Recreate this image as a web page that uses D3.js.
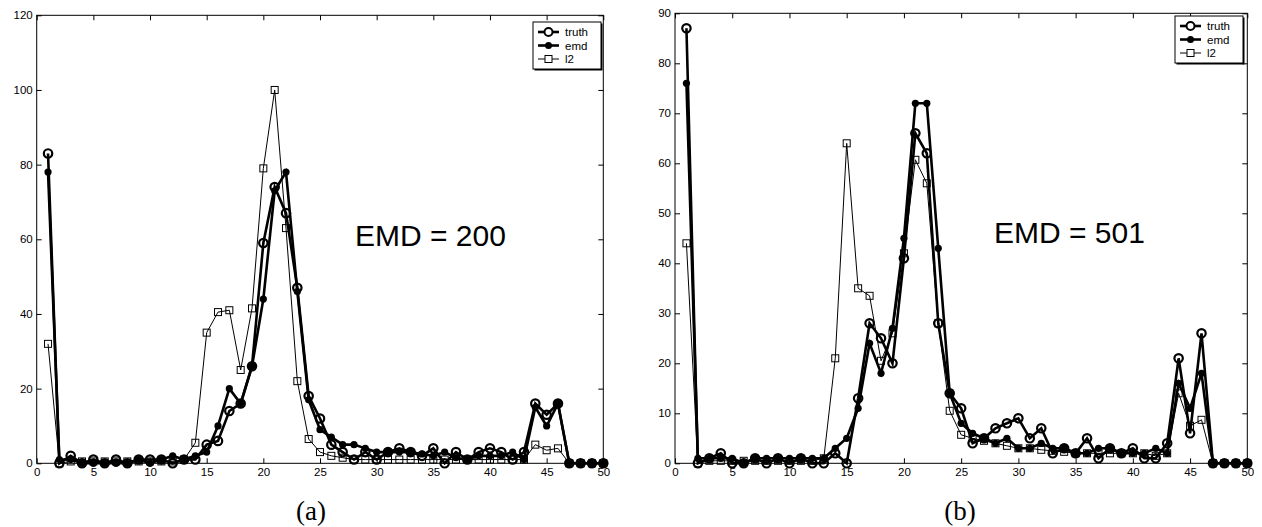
<!DOCTYPE html>
<html>
<head>
<meta charset="utf-8">
<script src="https://cdn.jsdelivr.net/npm/d3@7"></script>
<style>
  body { margin: 0; background: #fff; }
  svg text { font-family: "Liberation Sans", Arial, sans-serif; }
</style>
</head>
<body>
<div id="container"></div>
<script>
/**
 * DATA
 * */
const bins = d3.range(1, 51);

// panel (a)
const truthA = [83,0,2,0,1,0,1,0,1,1, 1,0,1,1,5,6,14,16,26,59, 74,67,47,18,12,5,3,1,3,1, 3,4,3,2,4,0,3,1,3,4, 3,1,3,16,13,16,0,0,0,0];
const emdA   = [78,1,1,0,0,0,0,0,1,0, 1,2,1,2,3,10,20,16,26,44, 73,78,46,17,9,7,5,5,4,3, 3,3,3,2.5,2,3,1.5,1,2,2, 2,3,1,15,10,16,0,0,0,0];
const l2A    = [32,0,0.5,0.5,0.5,0.5,0.5,0.5,0.5,0.5, 0.5,0.5,1,5.5,35,40.5,41,25,41.5,79, 100,63,22,6.5,3,2,1.5,1,1,1, 1,1,1,1,1,1,1,1,1,1, 1,1,1,5,3.5,4,0,0,0,0];

// panel (b)
const truthB = [87,0,1,2,0,0,1,0,1,0, 1,0,0,2,0,13,28,25,20,41, 66,62,28,14,11,4,5,7,8,9, 5,7,2,3,2,5,1,3,2,3, 1,1,4,21,6,26,0,0,0,0];
const emdB   = [76,1,1,1,1,0,1,1,1,1, 1,1,1,3,5,11,24,18,27,45, 72,72,43,14,8,6,5,4,5,3, 3,4,3,3,2,2,3,3,2,2, 2,3,2,16,11,18,0,0,0,0];
const l2B    = [44,0,0.5,0.5,0.5,0.5,0.5,0.5,0.5,0.5, 0.5,0.5,1,21,64,35,33.5,20.5,26,42, 60.7,56,28,10.5,5.7,5,4.5,4,3.5,3, 3,2.7,2.5,2.3,2,2,2,2,2,2, 2,1.5,2,14,7.5,8.7,0,0,0,0];

const xTicks  = [0,5,10,15,20,25,30,35,40,45,50];
const yTicksA = [0,20,40,60,80,100,120];
const yTicksB = [0,10,20,30,40,50,60,70,80,90];

const seriesNames = ["truth", "emd", "l2"];

/**
 * LAYOUT
 * */
const width = 1262, height = 527;

const svg = d3.select("#container")
  .append("svg")
  .attr("width", width)
  .attr("height", height);

function drawPanel(opt) {
  const x = d3.scaleLinear().domain([0, 50]).range([opt.left, opt.right]);
  const y = d3.scaleLinear().domain([0, opt.ymax]).range([opt.bottom, opt.top]);
  const g = svg.append("g");

  const line = d3.line().x((d, i) => x(bins[i])).y(d => y(d));

  // axes, matlab style ticks pointing in
  g.append("g")
    .attr("transform", `translate(0,${opt.bottom})`)
    .call(d3.axisBottom(x).tickValues(xTicks).tickSize(-5).tickPadding(5).tickFormat(d3.format("d")))
    .call(a => a.select(".domain").remove());
  g.append("g")
    .attr("transform", `translate(0,${opt.top})`)
    .call(d3.axisTop(x).tickValues(xTicks).tickSize(-5).tickFormat(""))
    .call(a => a.select(".domain").remove());
  g.append("g")
    .attr("transform", `translate(${opt.left},0)`)
    .call(d3.axisLeft(y).tickValues(opt.yTicks).tickSize(-5).tickPadding(4).tickFormat(d3.format("d")))
    .call(a => a.select(".domain").remove());
  g.append("g")
    .attr("transform", `translate(${opt.right},0)`)
    .call(d3.axisRight(y).tickValues(opt.yTicks).tickSize(-5).tickFormat(""))
    .call(a => a.select(".domain").remove());

  g.selectAll(".tick text")
    .attr("font-size", 11.5)
    .attr("font-family", "Liberation Sans, Arial, sans-serif")
    .attr("fill", "#000");
  g.selectAll(".tick line").attr("stroke", "#000");

  g.append("rect")
    .attr("x", opt.left)
    .attr("y", opt.top)
    .attr("width", opt.right - opt.left)
    .attr("height", opt.bottom - opt.top)
    .attr("fill", "none")
    .attr("stroke", "#000")
    .attr("stroke-width", 1);

  // truth: open circles, thick
  g.append("path")
    .datum(opt.truth)
    .attr("d", line)
    .attr("fill", "none")
    .attr("stroke", "#000")
    .attr("stroke-width", 2.6);
  // emd: dots, thick
  g.append("path")
    .datum(opt.emd)
    .attr("d", line)
    .attr("fill", "none")
    .attr("stroke", "#000")
    .attr("stroke-width", 2.6);
  // l2: squares, thin
  g.append("path")
    .datum(opt.l2)
    .attr("d", line)
    .attr("fill", "none")
    .attr("stroke", "#000")
    .attr("stroke-width", 1);

  g.selectAll(".truthPt")
    .data(opt.truth)
    .join("circle")
    .attr("class", "truthPt")
    .attr("cx", (d, i) => x(bins[i]))
    .attr("cy", d => y(d))
    .attr("r", 4.2)
    .attr("fill", "none")
    .attr("stroke", "#000")
    .attr("stroke-width", 2.2);

  g.selectAll(".emdPt")
    .data(opt.emd)
    .join("circle")
    .attr("class", "emdPt")
    .attr("cx", (d, i) => x(bins[i]))
    .attr("cy", d => y(d))
    .attr("r", 3.6)
    .attr("fill", "#000");

  g.selectAll(".l2Pt")
    .data(opt.l2)
    .join("rect")
    .attr("class", "l2Pt")
    .attr("x", (d, i) => x(bins[i]) - 3.5)
    .attr("y", d => y(d) - 3.5)
    .attr("width", 7)
    .attr("height", 7)
    .attr("fill", "none")
    .attr("stroke", "#000")
    .attr("stroke-width", 1);

  // legend
  const lg = g.append("g").attr("transform", `translate(${opt.legX},${opt.legY})`);
  lg.append("rect")
    .attr("x", 1.5).attr("y", 1.5)
    .attr("width", 68).attr("height", 47)
    .attr("fill", "#000");
  lg.append("rect")
    .attr("width", 68).attr("height", 47)
    .attr("fill", "#fff")
    .attr("stroke", "#000")
    .attr("stroke-width", 1);

  seriesNames.forEach((name, i) => {
    const yy = 10 + i * 13.5;
    lg.append("line")
      .attr("x1", 5).attr("x2", 26)
      .attr("y1", yy).attr("y2", yy)
      .attr("stroke", "#000")
      .attr("stroke-width", i < 2 ? 2.6 : 1);
    if (i === 0) {
      lg.append("circle").attr("cx", 15.5).attr("cy", yy).attr("r", 4)
        .attr("fill", "#fff").attr("stroke", "#000").attr("stroke-width", 2);
    } else if (i === 1) {
      lg.append("circle").attr("cx", 15.5).attr("cy", yy).attr("r", 3.5).attr("fill", "#000");
    } else {
      lg.append("rect").attr("x", 12).attr("y", yy - 3.5).attr("width", 7).attr("height", 7)
        .attr("fill", "#fff").attr("stroke", "#000");
    }
    lg.append("text")
      .attr("x", 32).attr("y", yy + 4)
      .attr("font-size", 11.5)
      .text(name);
  });

  // annotation
  g.append("text")
    .attr("x", opt.emdX).attr("y", opt.emdY)
    .attr("font-size", 30)
    .text(opt.emdLabel);

  // caption
  g.append("text")
    .attr("x", opt.capX).attr("y", 520)
    .attr("text-anchor", "middle")
    .attr("font-size", 27)
    .style("font-family", "'Liberation Serif', 'DejaVu Serif', serif")
    .text(opt.caption);
}

drawPanel({
  left: 36.7, right: 603.3, top: 15.3, bottom: 463.3, ymax: 120, yTicks: yTicksA,
  truth: truthA, emd: emdA, l2: l2A,
  legX: 533, legY: 22,
  emdLabel: "EMD = 200", emdX: 355, emdY: 246,
  caption: "(a)", capX: 311
});

drawPanel({
  left: 675, right: 1247.3, top: 13.3, bottom: 463.3, ymax: 90, yTicks: yTicksB,
  truth: truthB, emd: emdB, l2: l2B,
  legX: 1175, legY: 16,
  emdLabel: "EMD = 501", emdX: 994, emdY: 243,
  caption: "(b)", capX: 960
});
</script>
</body>
</html>
